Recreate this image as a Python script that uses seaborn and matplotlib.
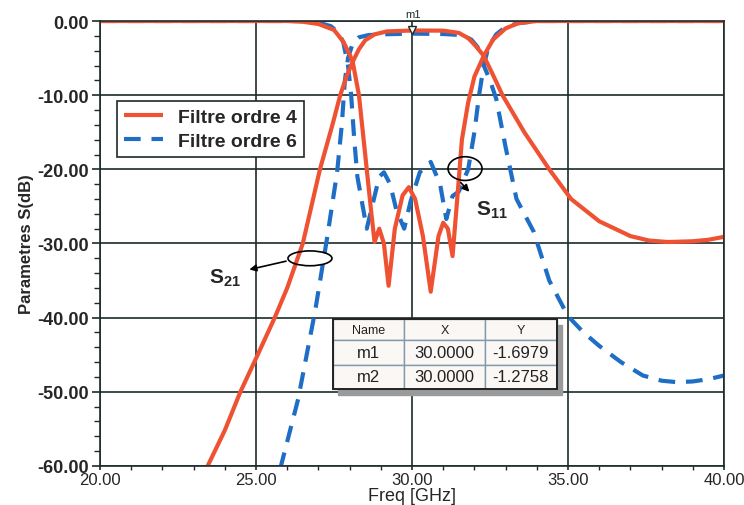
import numpy as np
import pandas as pd
import matplotlib
matplotlib.use("Agg")
import matplotlib.pyplot as plt
from matplotlib.patches import Ellipse, Rectangle
from matplotlib.ticker import MultipleLocator, FormatStrFormatter
import seaborn as sns

# --- data (freq in GHz, level in dB) ---
o4_s21_f = [23.2, 23.45, 24.0, 24.5, 25.0, 25.6, 26.0, 26.5, 27.05, 27.45, 27.7, 27.9, 28.1,
            28.3, 28.5, 28.8, 29.2, 30.0, 31.0, 31.5, 31.8, 32.05, 32.3, 32.6, 32.9, 33.6,
            34.4, 35.1, 36.0, 37.0, 37.6, 38.2, 39.0, 39.5, 40.0]
o4_s21_db = [-62.0, -60.0, -55.2, -50.0, -45.5, -40.0, -36.0, -30.0, -20.0, -14.0, -10.0, -7.5,
             -5.5, -3.8, -2.6, -1.8, -1.4, -1.28, -1.3, -1.6, -2.3, -3.4, -4.7, -7.3, -10.0,
             -15.0, -20.0, -24.0, -27.0, -29.0, -29.6, -29.8, -29.7, -29.5, -29.1]

o4_s11_f = [20.0, 26.0, 26.5, 27.0, 27.5, 27.8, 28.0, 28.1, 28.3, 28.5, 28.7, 28.8, 28.95, 29.1,
            29.25, 29.45, 29.7, 29.9, 30.1, 30.35, 30.6, 30.85, 31.0, 31.15, 31.3, 31.45, 31.6,
            31.8, 32.0, 32.3, 32.6, 33.0, 33.4, 34.0, 40.0]
o4_s11_db = [0.0, 0.0, -0.1, -0.4, -1.2, -2.8, -4.5, -5.5, -10.0, -18.0, -26.0, -29.8, -28.0,
             -30.0, -35.7, -28.0, -23.5, -22.4, -24.0, -29.0, -36.5, -29.0, -27.2, -28.0,
             -31.7, -24.0, -16.0, -11.0, -7.5, -4.7, -2.5, -1.0, -0.3, 0.0, 0.0]

o6_s21_f = [25.6, 25.8, 26.35, 26.9, 27.27, 27.6, 27.75, 27.85, 27.95, 28.1, 28.3, 28.6, 29.0,
            30.0, 31.0, 31.6, 31.9, 32.1, 32.3, 32.5, 32.7, 33.0, 33.35, 33.9, 34.4, 35.0, 35.5,
            36.0, 36.7, 37.4, 38.0, 38.5, 39.0, 39.5, 40.0]
o6_s21_db = [-64.0, -60.0, -51.0, -39.0, -29.5, -20.4, -14.0, -8.0, -5.0, -3.0, -2.2, -1.9,
             -1.8, -1.7, -1.75, -1.9, -2.5, -3.5, -6.0, -8.0, -10.5, -17.0, -24.0, -28.4,
             -35.0, -39.8, -42.0, -43.8, -46.0, -47.8, -48.5, -48.7, -48.6, -48.3, -47.8]

o6_s11_f = [20.0, 26.8, 27.0, 27.4, 27.65, 27.8, 27.95, 28.05, 28.15, 28.25, 28.4, 28.55, 28.75,
            28.95, 29.1, 29.3, 29.5, 29.75, 29.95, 30.25, 30.6, 30.9, 31.1, 31.3, 31.5, 31.8,
            32.0, 32.15, 32.3, 32.45, 32.7, 33.0, 33.4, 34.0, 40.0]
o6_s11_db = [0.0, 0.0, -0.2, -0.7, -1.6, -2.9, -6.0, -10.0, -16.0, -21.0, -24.5, -28.0, -24.5,
             -21.0, -20.4, -22.0, -25.5, -28.0, -24.4, -20.4, -19.0, -22.0, -26.7, -23.6,
             -23.0, -20.0, -15.0, -10.0, -6.0, -3.5, -1.8, -0.8, -0.3, 0.0, 0.0]

table_cols = ["Name", "X", "Y"]
table_rows = [["m1", "30.0000", "-1.6979"],
              ["m2", "30.0000", "-1.2758"]]

red = "#ef5232"
blue = "#1f6ec6"
grid_c = "#1d2b2b"

sns.set_style("white")
plt.rcParams["font.family"] = ["Liberation Sans", "DejaVu Sans"]
plt.rcParams["mathtext.fontset"] = "custom"
plt.rcParams["mathtext.bf"] = "Liberation Sans:bold"
plt.rcParams["mathtext.rm"] = "Liberation Sans"

fig = plt.figure(figsize=(7.44, 5.06), dpi=100)
ax = fig.add_axes([0.1344, 0.0771, 0.8387, 0.8794])

def curve(f, db, color, dashed):
    d = pd.DataFrame({"f": f, "db": db})
    ln = sns.lineplot(data=d, x="f", y="db", ax=ax, color=color, lw=3.0,
                      sort=False, estimator=None)
    line = ln.get_lines()[-1]
    if dashed:
        line.set_dashes((4, 2.6))
    line.set_solid_capstyle("butt")
    return line

curve(o6_s11_f, o6_s11_db, blue, True)
h6 = curve(o6_s21_f, o6_s21_db, blue, True)
curve(o4_s11_f, o4_s11_db, red, False)
h4 = curve(o4_s21_f, o4_s21_db, red, False)

ax.set_xlim(20, 40)
ax.set_ylim(-60, 0)
ax.xaxis.set_major_locator(MultipleLocator(5))
ax.xaxis.set_minor_locator(MultipleLocator(1))
ax.yaxis.set_major_locator(MultipleLocator(10))
ax.yaxis.set_minor_locator(MultipleLocator(2))
ax.xaxis.set_major_formatter(FormatStrFormatter("%.2f"))
ax.yaxis.set_major_formatter(FormatStrFormatter("%.2f"))
ax.grid(True, which="major", color=grid_c, lw=1.2)
ax.set_axisbelow(True)
for s in ax.spines.values():
    s.set_color(grid_c)
    s.set_linewidth(1.2)
ax.tick_params(which="major", direction="out", length=6, width=1.2, color=grid_c, left=True, bottom=True)
ax.tick_params(which="minor", direction="out", length=4, width=1.0, color=grid_c, left=True, bottom=True)
ax.tick_params(axis="x", which="major", length=3, pad=1)
ax.tick_params(axis="x", which="minor", length=3)
ax.tick_params(axis="y", pad=2)
for t in ax.get_yticklabels():
    t.set_fontweight("bold")
    t.set_fontsize(13)
for t in ax.get_xticklabels():
    t.set_fontsize(12)

ax.set_xlabel("Freq [GHz]", fontsize=13, labelpad=0)
ax.set_ylabel("Parametres S(dB)", fontsize=12, fontweight="bold", labelpad=2)

leg = ax.legend([h4, h6], ["Filtre ordre 4", "Filtre ordre 6"], loc="upper left",
                bbox_to_anchor=(0.027, 0.82), borderaxespad=0, fancybox=False,
                framealpha=1, edgecolor=grid_c, prop={"weight": "bold", "size": 14},
                handlelength=2.0, handletextpad=0.8, borderpad=0.35, labelspacing=0.35)
leg.get_frame().set_linewidth(1.2)

# marker at the top
ax.plot([30], [-1.2], marker="v", ms=6, mfc="white", mec=grid_c, mew=1, clip_on=False, zorder=5)
ax.text(30.02, 0.3, "m1", fontsize=8, ha="center", va="bottom", color=grid_c, clip_on=False)

# annotations
ax.add_patch(Ellipse((26.73, -32.0), 1.41, 2.0, fill=False, ec="black", lw=1.2, zorder=6))
ax.add_patch(Ellipse((31.70, -19.9), 1.09, 3.2, fill=False, ec="black", lw=1.2, zorder=6))
ax.annotate("", xy=(24.7, -33.6), xytext=(26.05, -32.3),
            arrowprops=dict(arrowstyle="-|>", color="black", lw=1.2, mutation_scale=10), zorder=6)
ax.annotate("", xy=(31.9, -23.3), xytext=(31.5, -21.5),
            arrowprops=dict(arrowstyle="-|>", color="black", lw=1.2, mutation_scale=10), zorder=6)
ax.text(24.0, -34.6, r"$\mathbf{S}_{\mathbf{21}}$", fontsize=15, ha="center", va="center")
ax.text(32.55, -25.4, r"$\mathbf{S}_{\mathbf{11}}$", fontsize=15, ha="center", va="center")

# marker table with shadow
tb = [0.373, 0.173, 0.359, 0.157]
ax.add_patch(Rectangle((tb[0] + 0.008, tb[1] - 0.014), tb[2], tb[3], transform=ax.transAxes,
                       color="#9a9a9a", zorder=7))
tab = ax.table(cellText=table_rows, colLabels=table_cols, cellLoc="center",
               bbox=tb, colWidths=[0.32, 0.36, 0.32], zorder=8)
tab.auto_set_font_size(False)
for (r, c), cell in tab.get_celld().items():
    cell.set_edgecolor("#7f9aa8")
    cell.set_linewidth(1.0)
    cell.set_facecolor("#fbf7f4")
    cell.get_text().set_color("#222222")
    cell.get_text().set_fontsize(9 if r == 0 else 12)
    if r == 0:
        cell.set_height(0.3)
    else:
        cell.set_height(0.35)
border = Rectangle((tb[0], tb[1]), tb[2], tb[3], transform=ax.transAxes, fill=False,
                   ec="#222222", lw=1.4, zorder=9)
ax.add_patch(border)

fig.savefig("out.png", dpi=100)
